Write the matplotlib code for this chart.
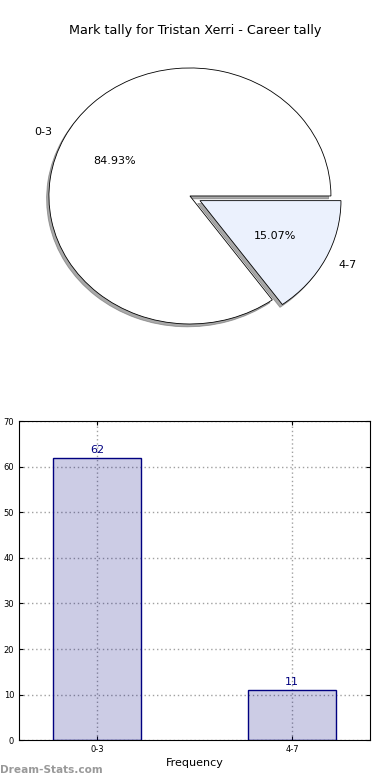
import numpy as np
import matplotlib
matplotlib.use('Agg')
import matplotlib.pyplot as plt

# data
labels = ['0-3', '4-7']
counts = [62, 11]
pie_colors = ['white', '#ebf1fd']
explode = [0, 0.08]
title = 'Mark tally for Tristan Xerri - Career tally'

fig = plt.figure(figsize=(3.9, 7.8), dpi=100)

# pie chart (stretched, not equal aspect)
ax1 = fig.add_axes([0.017, 0.5354, 0.94, 0.4267])
wedges, texts, autotexts = ax1.pie(counts, labels=labels, colors=pie_colors,
                                   explode=explode, autopct='%.2f%%',
                                   shadow={'ox': -0.012, 'oy': -0.016, 'color': '#555555'},
                                   startangle=0,
                                   wedgeprops={'edgecolor': 'black', 'linewidth': 0.6},
                                   textprops={'fontsize': 8})
ax1.set_aspect('auto')
ax1.set_xlim(-1.3, 1.3)
ax1.set_ylim(-1.3, 1.3)
ax1.axis('off')
fig.text(0.5, 0.961, title, ha='center', va='center', fontsize=9.2)

# bar chart
ax2 = fig.add_axes([0.049, 0.051, 0.9, 0.409])
x = np.arange(len(labels))
ax2.bar(x, counts, width=0.45, color='navy', alpha=0.2, zorder=2)
ax2.bar(x, counts, width=0.45, fill=False, edgecolor='navy', linewidth=1, zorder=3)
for xi, c in zip(x, counts):
    ax2.text(xi, c + 0.6, str(c), ha='center', va='bottom', color='navy', fontsize=8)
ax2.set_xlim(-0.4, 1.4)
ax2.set_ylim(0, 70)
ax2.set_xticks(x)
ax2.set_xticklabels(labels)
ax2.set_yticks(np.arange(0, 71, 10))
ax2.tick_params(direction='in', top=True, right=True, labelsize=6, length=3)
ax2.grid(True, linestyle=(0, (1, 2)), color='#a0a0a0', linewidth=1, zorder=0)
ax2.set_axisbelow(True)
ax2.set_xlabel('Frequency', fontsize=8, labelpad=3)

fig.text(0.0, 0.009, 'Dream-Stats.com', color='gray', fontsize=7.6, fontweight='bold', alpha=0.8)

fig.savefig('out.png', dpi=100)
